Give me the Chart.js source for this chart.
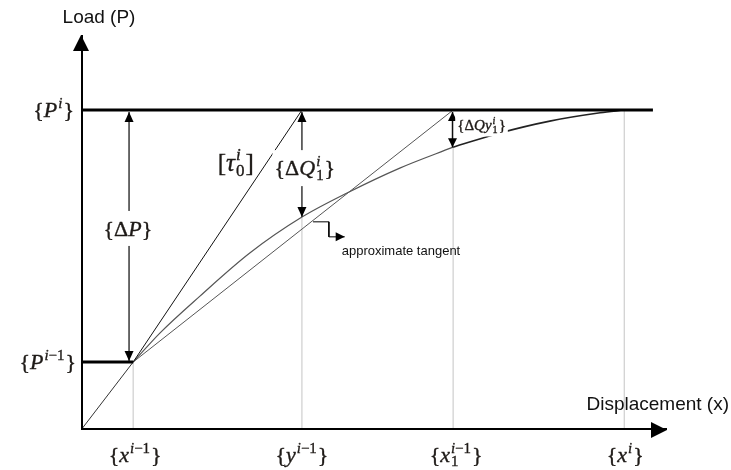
<!DOCTYPE html>
<html>
<head>
<meta charset="utf-8">
<script src="https://cdn.jsdelivr.net/npm/chart.js@4"></script>
<style>
  html, body { margin: 0; padding: 0; background: #fff; }
  #wrap { width: 731px; height: 470px; }
</style>
</head>
<body>
<div id="wrap"><canvas id="loadChart"></canvas></div>
<script>
// one load step of the incremental solution, both axes run 0..100
const dispMarks = [8.9, 37.7, 63.5, 92.7];   // x^{i-1}, y^{i-1}, x1^{i-1}, x^i
const loadLevels = [17.2, 81];              // P^{i-1}, P^i
const loadLineEnd = 97.6;

// load-displacement response
const elasticX = [0, 8.9];
const elasticY = [0, 17.2];
const curveX = [8.9, 13.5, 20.3, 28.8, 37.7, 45.4, 54.4, 63.5, 71.5, 80.0, 88.6, 92.7];
const curveY = [17.2, 24.6, 33.9, 44.8, 53.9, 60.0, 66.3, 71.6, 75.2, 78.2, 80.3, 81.0];

// heights where the vertical guides stop
const guideTops = [17.2, 53.9, 71.6, 81.0];

// pointer to the approximate tangent
const pointerX = [39.6, 42.3, 42.3, 45.0];
const pointerY = [52.7, 52.7, 48.9, 48.9];

const SERIF = '"Liberation Serif", "DejaVu Serif", serif';
const SANS = '"Liberation Sans", Arial, sans-serif';
const INK = '#1e1a17';

const pts = (xs, ys) => xs.map((x, k) => ({ x: x, y: ys[k] }));

function line(data, color, width, extra) {
    return Object.assign({
        data: data,
        borderColor: color,
        borderWidth: width,
        showLine: true,
        pointRadius: 0,
        fill: false,
        tension: 0
    }, extra || {});
}

const curveSplit = curveX.indexOf(dispMarks[2]);

const datasets = [
    // axes
    line(pts([0, 100], [0, 0]), '#000', 4, { arrow: 'end', head: [16, 8] }),
    line(pts([0, 0], [0, 100]), '#000', 4, { arrow: 'end', head: [16, 8] }),
    // load levels
    line(pts([0, loadLineEnd], [loadLevels[1], loadLevels[1]]), '#000', 3),
    line(pts([0, dispMarks[0]], [loadLevels[0], loadLevels[0]]), '#000', 3),
    // dimension arrows
    line(pts([8.2, 8.2], [loadLevels[1] - 0.5, loadLevels[0] + 0.3]), '#3a3a3a', 1.5, { arrow: 'both', head: [10, 4.5] }),
    line(pts([dispMarks[1], dispMarks[1]], [loadLevels[1] - 0.5, curveY[4]]), '#3a3a3a', 1.5, { arrow: 'both', head: [10, 4.5] }),
    line(pts([dispMarks[2] - 0.1, dispMarks[2] - 0.1], [loadLevels[1] - 0.5, curveY[7]]), '#111', 1.5, { arrow: 'both', head: [9, 4.5] }),
    // tangent pointer
    line(pts(pointerX, pointerY), '#000', 1, { arrow: 'end', head: [9, 4.5] }),
    // secants from the start of the step
    line(pts([dispMarks[0], dispMarks[1]], [loadLevels[0], loadLevels[1]]), '#111', 1),
    line(pts([dispMarks[0], dispMarks[2]], [loadLevels[0], loadLevels[1]]), '#555', 1),
    // response curve
    line(pts(elasticX, elasticY), '#333', 1),
    line(pts(curveX.slice(0, curveSplit + 1), curveY.slice(0, curveSplit + 1)), '#555', 1.2, { cubicInterpolationMode: 'monotone' }),
    line(pts(curveX.slice(curveSplit), curveY.slice(curveSplit)), '#222', 1.6, { cubicInterpolationMode: 'monotone' })
];

// light vertical guides up from the displacement axis
dispMarks.forEach((x, k) => {
    datasets.push(line(pts([x, x], [0, guideTops[k]]), '#c4c4c4', 1));
});

// ---- math text: letters italic, the rest upright, stacked sub/superscripts
function charFont(ch, size) {
    return (/[A-Za-zτ]/.test(ch) ? 'italic ' : '') + size + 'px ' + SERIF;
}
function runWidth(ctx, s, size) {
    let w = 0;
    for (const ch of s) { ctx.font = charFont(ch, size); w += ctx.measureText(ch).width; }
    return w;
}
function drawRun(ctx, s, x, y, size) {
    for (const ch of s) {
        ctx.font = charFont(ch, size);
        ctx.fillText(ch, x, y);
        ctx.strokeText(ch, x, y);
        x += ctx.measureText(ch).width;
    }
    return x;
}
function partWidth(ctx, p, size) {
    if (typeof p === 'string') return runWidth(ctx, p, size);
    const ss = size * 0.68;
    return Math.max(p.sup ? runWidth(ctx, p.sup, ss) : 0, p.sub ? runWidth(ctx, p.sub, ss) : 0) + 2;
}
function drawMath(ctx, parts, x, y, size, align) {
    const w = parts.reduce((s, p) => s + partWidth(ctx, p, size), 0);
    let cx = align === 'center' ? x - w / 2 : align === 'right' ? x - w : x;
    const base = y + size * 0.32;
    ctx.textAlign = 'left';
    ctx.textBaseline = 'alphabetic';
    ctx.fillStyle = INK;
    ctx.strokeStyle = INK;
    ctx.lineWidth = 0.35;
    parts.forEach(p => {
        if (typeof p === 'string') {
            cx = drawRun(ctx, p, cx, base, size);
        } else {
            const ss = size * 0.68;
            if (p.sup) drawRun(ctx, p.sup, cx + 1, base - size * 0.42, ss);
            if (p.sub) drawRun(ctx, p.sub, cx + 1, base + size * 0.2, ss);
            cx += partWidth(ctx, p, size);
        }
    });
    return w;
}

// labels placed at data positions, with pixel offsets
const mathLabels = [
    { parts: ['{P', { sup: 'i' }, '}'], x: 0, y: loadLevels[1], dx: -7, dy: 0, size: 22, align: 'right' },
    { parts: ['{P', { sup: 'i−1' }, '}'], x: 0, y: loadLevels[0], dx: -5, dy: 0, size: 22, align: 'right' },
    { parts: ['{x', { sup: 'i−1' }, '}'], x: dispMarks[0], y: 0, dx: 2, dy: 25, size: 22, align: 'center' },
    { parts: ['{y', { sup: 'i−1' }, '}'], x: dispMarks[1], y: 0, dx: 0, dy: 25, size: 22, align: 'center' },
    { parts: ['{x', { sup: 'i−1', sub: '1' }, '}'], x: dispMarks[2], y: 0, dx: 3, dy: 25, size: 22, align: 'center' },
    { parts: ['{x', { sup: 'i' }, '}'], x: dispMarks[3], y: 0, dx: 1, dy: 25, size: 22, align: 'center' },
    { parts: ['{ΔP}'], x: 8.0, y: 50.9, dx: 0, dy: 0, size: 22, align: 'center', bg: [18, 17] },
    { parts: ['{ΔQ', { sup: 'i', sub: '1' }, '}'], x: 38.2, y: 66.3, dx: 0, dy: 0, size: 22, align: 'center', bg: [18, 18] },
    { parts: ['[τ', { sup: 'i', sub: '0' }, ']'], x: 26.4, y: 67.6, dx: 0, dy: 0, size: 25, align: 'center' },
    { parts: ['{ΔQy', { sup: 'i', sub: '1' }, '}'], x: 64.2, y: 77.1, dx: 0, dy: 0, size: 15, align: 'left', bg: [11, 11] }
];

const sketchPlugin = {
    id: 'sketch',
    afterDatasetsDraw(chart) {
        const ctx = chart.ctx;
        const xs = chart.scales.x, ys = chart.scales.y;

        // arrowheads at line ends
        chart.data.datasets.forEach((ds, i) => {
            if (!ds.arrow) return;
            const el = chart.getDatasetMeta(i).data;
            const heads = [[el[el.length - 1], el[el.length - 2]]];
            if (ds.arrow === 'both') heads.push([el[0], el[1]]);
            heads.forEach(([tip, from]) => {
                const a = Math.atan2(tip.y - from.y, tip.x - from.x);
                const [len, half] = ds.head;
                ctx.save();
                ctx.translate(tip.x, tip.y);
                ctx.rotate(a);
                ctx.beginPath();
                ctx.moveTo(0, 0);
                ctx.lineTo(-len, -half);
                ctx.lineTo(-len, half);
                ctx.closePath();
                ctx.fillStyle = '#000';
                ctx.fill();
                ctx.restore();
            });
        });

        ctx.save();
        mathLabels.forEach(l => {
            const px = xs.getPixelForValue(l.x) + l.dx;
            const py = ys.getPixelForValue(l.y) + l.dy;
            if (l.bg) {
                const w = l.parts.reduce((s, p) => s + partWidth(ctx, p, l.size), 0);
                const left = l.align === 'center' ? px - w / 2 : l.align === 'right' ? px - w : px;
                ctx.fillStyle = '#fff';
                ctx.fillRect(left - 2, py - l.bg[0], w + 4, l.bg[0] + l.bg[1]);
            }
            drawMath(ctx, l.parts, px, py, l.size, l.align);
        });

        // axis captions and note
        ctx.fillStyle = '#111';
        ctx.textBaseline = 'middle';
        ctx.font = '19px ' + SANS;
        ctx.textAlign = 'center';
        ctx.fillText('Load (P)', xs.getPixelForValue(0) + 18, 18);
        ctx.textAlign = 'right';
        ctx.fillText('Displacement (x)', 729, ys.getPixelForValue(0) - 25);
        ctx.font = '13px ' + SANS;
        ctx.textAlign = 'left';
        ctx.fillText('approximate tangent', xs.getPixelForValue(pointerX[3]) - 3, ys.getPixelForValue(pointerY[3]) + 15);
        ctx.restore();
    }
};

new Chart(document.getElementById('loadChart'), {
    type: 'scatter',
    data: { datasets: datasets },
    options: {
        responsive: true,
        maintainAspectRatio: false,
        animation: false,
        layout: { padding: { left: 81, right: 64, top: 35, bottom: 40 } },
        scales: {
            x: { type: 'linear', min: 0, max: 100, display: false },
            y: { type: 'linear', min: 0, max: 100, display: false }
        },
        plugins: {
            legend: { display: false },
            tooltip: { enabled: false }
        }
    },
    plugins: [sketchPlugin]
});
</script>
</body>
</html>
